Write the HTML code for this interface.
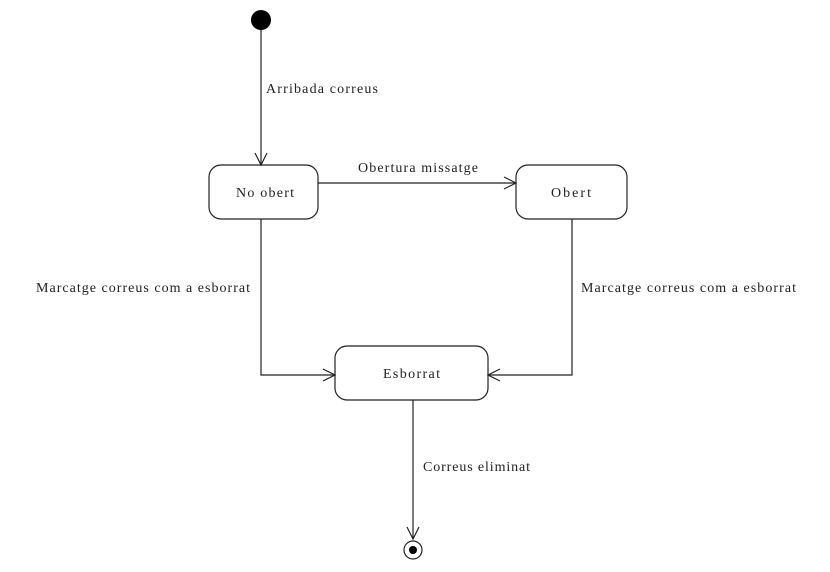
<!DOCTYPE html>
<html><head><style>body{margin:0;background:#fff}svg{display:block}text{font-family:"Liberation Serif",serif;font-size:14px;fill:#222}</style></head>
<body>
<svg width="830" height="572" viewBox="0 0 830 572">
<g stroke="#222" stroke-width="1.2" fill="none">
<circle cx="261" cy="20" r="10" fill="#000" stroke="none"/>
<line x1="261" y1="30" x2="261" y2="165"/>
<polyline points="255,153 261,165 267,153"/>
<rect x="209" y="165" width="109" height="54" rx="12"/>
<rect x="516" y="165" width="111" height="54" rx="12"/>
<rect x="335" y="346" width="153" height="54" rx="12"/>
<line x1="318" y1="183" x2="516" y2="183"/>
<polyline points="504,177 516,183 504,189"/>
<polyline points="261,219 261,375 335,375"/>
<polyline points="323,369 335,375 323,381"/>
<polyline points="572,219 572,375 488,375"/>
<polyline points="500,369 488,375 500,381"/>
<line x1="413" y1="400" x2="413" y2="539"/>
<polyline points="407,527 413,539 419,527"/>
<circle cx="413" cy="550" r="9"/>
<circle cx="413" cy="550" r="4" fill="#000" stroke="none"/>
</g>
<text x="266" y="93" textLength="112" lengthAdjust="spacing">Arribada correus</text>
<text x="358" y="172" textLength="120" lengthAdjust="spacing">Obertura missatge</text>
<text x="236" y="197" textLength="58" lengthAdjust="spacing">No obert</text>
<text x="551" y="197" textLength="40" lengthAdjust="spacing">Obert</text>
<text x="383" y="378" textLength="57" lengthAdjust="spacing">Esborrat</text>
<text x="36" y="292" textLength="214" lengthAdjust="spacing">Marcatge correus com a esborrat</text>
<text x="581" y="292" textLength="215" lengthAdjust="spacing">Marcatge correus com a esborrat</text>
<text x="423" y="471" textLength="107" lengthAdjust="spacing">Correus eliminat</text>
</svg>
</body></html>
